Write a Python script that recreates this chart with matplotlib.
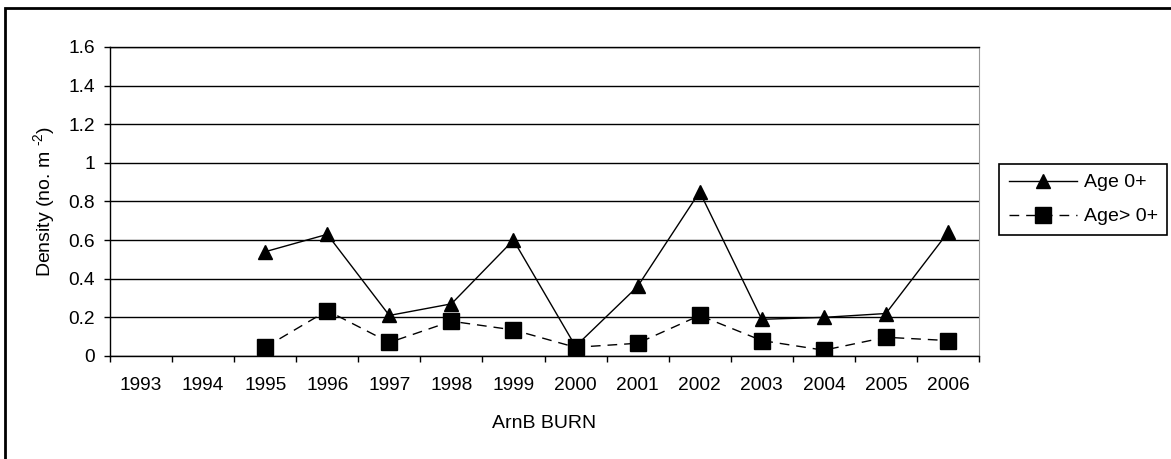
import numpy as np
import matplotlib
matplotlib.use("Agg")
import matplotlib.pyplot as plt
from matplotlib.patches import Rectangle

plt.rcParams["font.family"] = ["Liberation Sans", "DejaVu Sans"]
plt.rcParams["mathtext.fontset"] = "custom"
plt.rcParams["mathtext.rm"] = "Liberation Sans"
plt.rcParams["mathtext.it"] = "Liberation Sans"

# data
years = ["1993", "1994", "1995", "1996", "1997", "1998", "1999",
         "2000", "2001", "2002", "2003", "2004", "2005", "2006"]
age0 = [np.nan, np.nan, 0.54, 0.63, 0.21, 0.27, 0.60,
        0.05, 0.36, 0.85, 0.19, 0.20, 0.22, 0.64]
age_older = [np.nan, np.nan, 0.045, 0.235, 0.07, 0.18, 0.135,
             0.045, 0.066, 0.21, 0.08, 0.03, 0.097, 0.08]
yticks = [0, 0.2, 0.4, 0.6, 0.8, 1, 1.2, 1.4, 1.6]

W, H = 1171, 459
fig = plt.figure(figsize=(W / 100, H / 100), dpi=100)
ax = fig.add_axes([110 / W, 1 - 356 / H, (979 - 110) / W, (356 - 47) / H])

x = np.arange(len(years))
ax.plot(x, age0, color="black", lw=1.0, marker="^", ms=10,
        label="Age 0+", zorder=3)
ax.plot(x, age_older, color="black", lw=1.0, ls=(0, (7, 5)), marker="s",
        ms=12, label="Age> 0+", zorder=3)

ax.set_xlim(-0.5, len(years) - 0.5)
ax.set_ylim(0, 1.6)
ax.set_yticks(yticks)
ax.set_yticklabels([f"{v:g}" for v in yticks])
ax.yaxis.grid(True, color="black", lw=1.0)
ax.set_axisbelow(True)

# category ticks between years, labels centred on years
ax.set_xticks(np.arange(-0.5, len(years), 1.0))
ax.set_xticklabels([])
ax.set_xticks(x, minor=True)
ax.set_xticklabels(years, minor=True)
ax.tick_params(axis="x", which="major", direction="out", length=4.5, width=1, color="black")
ax.tick_params(axis="x", which="minor", length=0, pad=15, labelsize=13.8)
ax.tick_params(axis="y", direction="out", length=4, width=1, pad=7, labelsize=13.8)

for s in ["left", "bottom", "top"]:
    ax.spines[s].set_color("black")
    ax.spines[s].set_linewidth(1.0)
ax.spines["right"].set_color("#999999")

ax.set_ylabel(r"Density (no. m $^{\text{-2}}$)", fontsize=14, labelpad=8)
ax.set_xlabel("ArnB BURN", fontsize=14, labelpad=15)

leg = ax.legend(loc="upper left", bbox_to_anchor=(999 / W, 1 - 164 / H),
                bbox_transform=fig.transFigure, borderaxespad=0, fontsize=14,
                fancybox=False, framealpha=1, edgecolor="black",
                handlelength=3.5, handletextpad=0.35, borderpad=0.5,
                labelspacing=0.85)
leg.get_frame().set_linewidth(1.2)

# outer chart frame (right/bottom sides fall outside the image)
fig.patches.append(Rectangle((5 / W, -0.1), 1.2, 1.1 - 8 / H,
                             transform=fig.transFigure, fill=False,
                             edgecolor="black", lw=2.0))

fig.savefig("out.png", dpi=100)
